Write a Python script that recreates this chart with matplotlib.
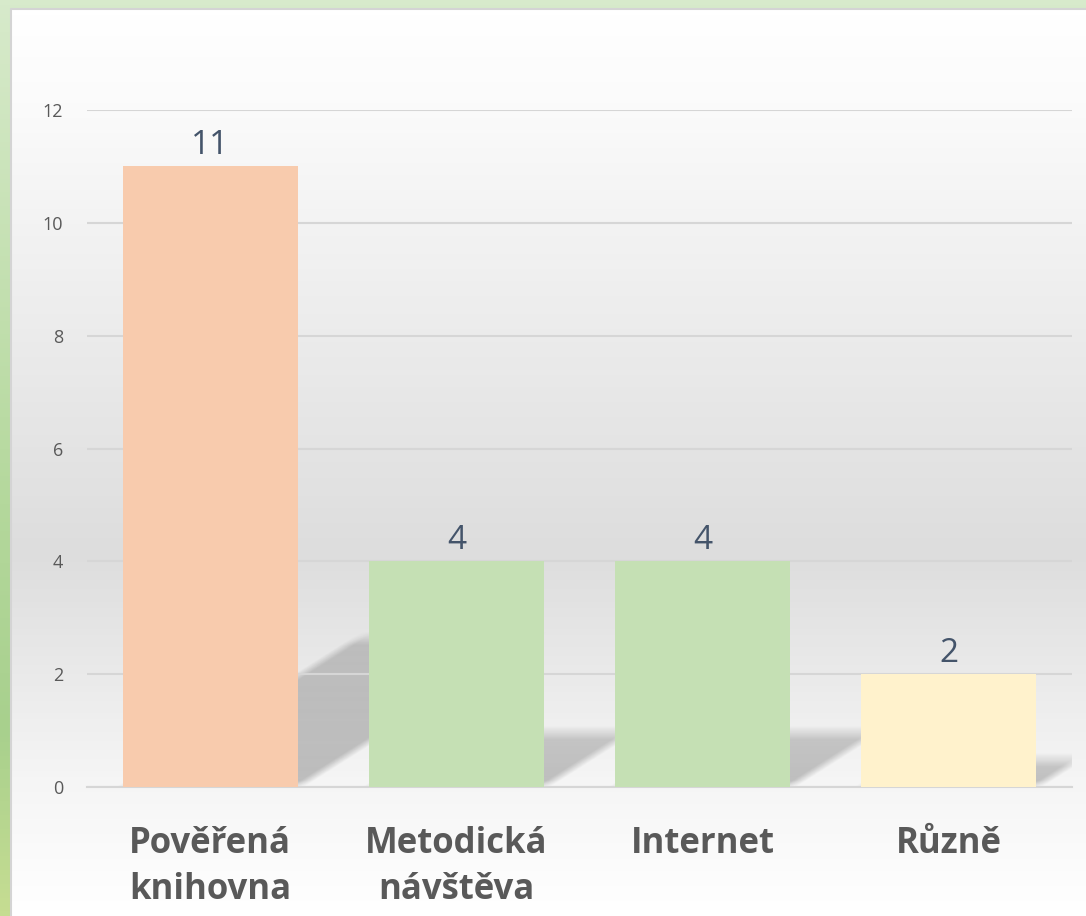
import numpy as np
import matplotlib
matplotlib.use("Agg")
import matplotlib.pyplot as plt
from matplotlib.colors import LinearSegmentedColormap

plt.rcParams['font.family'] = ['Open Sans', 'DejaVu Sans']

# data
categories = ["Pověřená\nknihovna", "Metodická\nnávštěva", "Internet", "Různě"]
values = [11, 4, 4, 2]
bar_colors = ["#f8cbad", "#c5e0b4", "#c5e0b4", "#fff2cc"]
y_ticks = [0, 2, 4, 6, 8, 10, 12]

W, H = 1086, 916
fig = plt.figure(figsize=(W / 100, H / 100), dpi=100)

# background: green frame + grey gradient panel
bg = fig.add_axes([0, 0, 1, 1])
bg.set_xlim(0, W)
bg.set_ylim(H, 0)
bg.axis("off")
green = LinearSegmentedColormap.from_list(
    "g", [(0, "#d7eacb"), (0.55, "#b4d89c"), (0.8, "#a8d08d"), (1, "#c6dd92")])
bg.imshow(np.linspace(0, 1, 200)[:, None], cmap=green, extent=[0, W, H, 0], aspect="auto")
panel = LinearSegmentedColormap.from_list(
    "p", [(0, "#ffffff"), (0.1, "#fbfbfb"), (0.6, "#dddddd"), (0.85, "#f5f5f5"), (1, "#ffffff")])
bg.imshow(np.linspace(0, 1, 300)[:, None], cmap=panel, extent=[11, W, H, 9], aspect="auto")
bg.plot([11, 11, W], [H, 9, 9], color="#d4d4d4", lw=1.5)

ax = fig.add_axes([87 / W, 1 - 787 / H, (1072 - 87) / W, (787 - 110) / H])
ax.patch.set_alpha(0)
x = np.arange(len(values))
bw = 0.71

# soft perspective shadows behind the bars
px_x = 1 / 246.25
px_y = 12 / 677
gx = np.linspace(-0.5, len(values) - 0.5, 1200)
gy = np.linspace(0, 4, 400)
XX, YY = np.meshgrid(gx, gy)


def smooth(d, s):
    return np.clip(0.5 + d / (2 * s), 0, 1)


for xi, v in zip(x, values):
    top = 0.24 * v
    u = XX - 0.362 * YY
    a = (smooth(u - (xi - bw / 2), 7 * px_x) * smooth((xi + bw / 2) - u, 7 * px_x)
         * smooth(YY - 0.02, 5 * px_y) * smooth(top - YY, 7 * px_y))
    a = a * (0.23 - 0.05 * YY / max(top, 1e-6))
    rgba = np.zeros(a.shape + (4,))
    rgba[..., 3] = np.clip(a, 0, 1)
    ax.imshow(rgba, extent=[gx[0], gx[-1], gy[0], gy[-1]], origin="lower",
              aspect="auto", zorder=1, interpolation="bilinear")

ax.set_xlim(-0.5, len(values) - 0.5)
ax.set_ylim(0, 12)

bars = ax.bar(x, values, width=bw, color=bar_colors, zorder=3)
ax.bar_label(bars, labels=[str(v) for v in values], padding=3,
             fontsize=24, color="#44546a")

ax.set_yticks(y_ticks)
ax.yaxis.grid(True, color="#d6d6d6", lw=1.5)
for gl in ax.get_ygridlines():
    gl.set_zorder(2)
ax.tick_params(axis="y", length=0, pad=17, labelsize=13, labelcolor="#595959")
ax.set_xticks(x)
ax.set_xticklabels(categories, fontsize=25, fontweight="bold", color="#595959",
                   linespacing=1.38, va="top")
ax.tick_params(axis="x", length=0, pad=28)
for s in ["top", "right", "left"]:
    ax.spines[s].set_visible(False)
ax.spines["bottom"].set_color("#d6d6d6")
ax.spines["bottom"].set_linewidth(1.5)
ax.spines["bottom"].set_zorder(2)

fig.savefig("out.png", dpi=100)
